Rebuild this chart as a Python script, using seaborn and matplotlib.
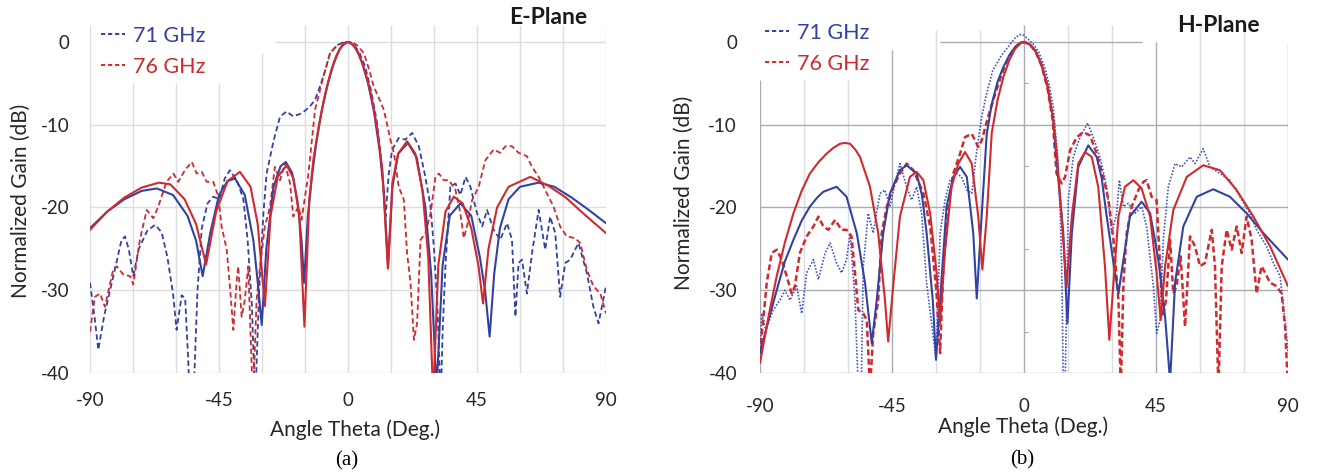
import matplotlib
matplotlib.use("Agg")
import matplotlib.pyplot as plt
from matplotlib.lines import Line2D
import pandas as pd
import seaborn as sns

# E-plane (a): (angle deg, normalized gain dB)
E_71_SIM = [(-90, -22.5), (-84, -20.5), (-78, -19.0), (-72, -18.0), (-66.7, -17.7), (-61, -18.5),
            (-56, -21.0), (-53, -24.0), (-50.7, -28.3), (-48, -23.0), (-45, -18.5), (-42, -16.8),
            (-39.4, -16.5), (-36, -18.5), (-33, -24.0), (-31.5, -29.0), (-30.1, -34.2), (-28.5, -25.0),
            (-26, -17.5), (-23.5, -15.0), (-21.7, -14.5), (-19.5, -15.8), (-17.5, -19.5), (-16.2, -24.0),
            (-15.3, -29.1), (-14, -21.0), (-12.5, -16.0), (-11, -12.0), (-9, -8.0), (-7, -5.0),
            (-5, -2.6), (-3, -0.9), (-1, -0.1), (0, 0.0), (1, -0.1), (3, -0.9), (5, -2.6), (7, -5.0),
            (9, -8.3), (11, -13.0), (12.5, -18.0), (14, -27.2), (15.5, -17.5), (17.5, -13.5),
            (20.9, -12.2), (24, -14.0), (27, -20.0), (29, -28.0), (30.9, -42.0), (33, -27.0),
            (35.5, -21.0), (39.2, -19.5), (43, -21.0), (46, -26.0), (47.8, -30.0), (49.4, -35.6),
            (51, -28.0), (53, -22.5), (56, -19.0), (60, -17.5), (66.5, -17.0), (72, -17.5),
            (78, -18.8), (84, -20.3), (90, -21.9)]

E_76_SIM = [(-90, -22.7), (-84, -20.5), (-78, -18.8), (-72, -17.6), (-66, -17.0), (-62, -17.2),
            (-57, -19.0), (-53, -22.0), (-49.5, -26.9), (-46, -20.5), (-42, -16.8), (-37.7, -15.7),
            (-34, -17.5), (-31.5, -22.0), (-29, -31.9), (-27, -21.0), (-24.5, -16.3), (-21.4, -14.9),
            (-19, -16.5), (-17, -21.0), (-15.2, -34.4), (-13.5, -19.0), (-12, -14.0), (-10, -9.8),
            (-8, -6.3), (-6, -3.6), (-4, -1.6), (-2, -0.4), (0, 0.0), (2, -0.4), (4, -1.6), (6, -3.6),
            (8, -6.3), (10, -10.0), (12, -15.5), (13.9, -27.4), (15.5, -17.0), (17.5, -13.5),
            (20.6, -12.0), (23.5, -13.5), (26, -18.0), (28, -26.0), (29.7, -43.0), (31.5, -27.0),
            (34, -20.5), (36.9, -18.7), (40, -19.5), (43, -22.5), (45.5, -27.0), (47.1, -31.6),
            (49, -25.0), (52, -20.0), (56, -17.5), (63.6, -16.3), (70, -17.4), (76, -18.8),
            (82, -20.7), (90, -23.1)]

E_71_MEAS = [(-90, -29.1), (-88.5, -33.0), (-87.1, -37.2), (-85, -33.0), (-83, -30.0), (-81, -27.0),
             (-79, -23.9), (-77.8, -23.5), (-76.5, -25.0), (-74.9, -28.3), (-73, -25.0), (-70, -22.8),
             (-67.3, -22.1), (-65, -23.0), (-63, -26.0), (-61, -30.5), (-59.8, -34.8), (-58, -30.6),
             (-56.8, -31.0), (-55.8, -38.0), (-55.1, -44.0), (-54, -44.0), (-52.5, -30.0), (-51, -22.5),
             (-49, -19.5), (-47, -18.7), (-44.9, -19.0), (-43, -16.5), (-41.2, -15.5), (-38.8, -16.7),
             (-36.5, -19.0), (-35, -24.0), (-33.5, -32.0), (-32.4, -44.0), (-31, -30.0), (-29.5, -20.7),
             (-28.4, -15.9), (-26, -12.0), (-23.7, -9.0), (-21.4, -8.4), (-19.1, -9.0), (-16, -8.6),
             (-13.3, -7.8), (-11.5, -7.0), (-9.8, -5.4), (-8, -3.5), (-6.3, -1.4), (-4, -0.5),
             (-2, -0.1), (0, 0.0), (2, -0.3), (4, -1.3), (6, -3.0), (8, -5.8), (10, -9.5), (11.5, -14.0),
             (13.1, -21.1), (14.2, -16.0), (15.4, -13.0), (17.7, -11.6), (20, -11.8), (22.4, -11.0),
             (24.7, -12.6), (26.8, -16.0), (28.8, -19.9), (30, -25.0), (31.1, -31.2), (31.8, -38.0),
             (32.3, -44.0), (33, -35.0), (34, -27.1), (35.7, -17.5), (37.5, -17.1), (39.2, -18.5),
             (41, -16.3), (42.7, -17.5), (45, -20.7), (46.8, -22.3), (48.5, -20.3), (50.8, -22.7),
             (53.1, -23.9), (55.5, -21.9), (57.2, -23.9), (58.4, -33.2), (59.5, -26.7), (60.7, -26.3),
             (62.4, -30.4), (64.2, -25.5), (66.5, -20.3), (68.8, -25.1), (70.5, -21.1), (72.3, -23.1),
             (74, -30.8), (75.8, -26.7), (77.5, -26.3), (80.4, -24.3), (83.3, -27.9), (85.6, -32.0),
             (87.4, -34.0), (90, -29.5)]

E_76_MEAS = [(-90, -35.0), (-88.3, -30.8), (-86.5, -30.4), (-84.8, -32.0), (-81.9, -27.5), (-80.7, -27.1),
             (-78.4, -28.1), (-76, -28.3), (-74.9, -29.3), (-72.6, -23.9), (-70.2, -20.3), (-67.9, -21.3),
             (-66.2, -19.9), (-63.3, -16.9), (-60.9, -15.9), (-59.2, -16.9), (-56.9, -15.5), (-54.5, -14.5),
             (-52.8, -15.9), (-51, -15.7), (-49.3, -16.9), (-47, -16.9), (-45.2, -18.7), (-44.1, -22.3),
             (-42.3, -25.1), (-41.2, -29.5), (-40, -34.8), (-38.8, -28.7), (-38.3, -27.1), (-37.1, -33.2),
             (-36, -31.2), (-34.8, -27.1), (-33.6, -39.2), (-33.1, -43.0), (-31.9, -31.2), (-30.7, -27.1),
             (-29, -22.3), (-27.2, -19.9), (-25.5, -15.1), (-23.7, -16.7), (-22, -14.7), (-20.2, -17.1),
             (-19.1, -21.1), (-17.3, -19.9), (-16.2, -21.5), (-13.8, -15.9), (-11.5, -8.2), (-8.6, -4.2),
             (-6.3, -1.4), (-4, -0.4), (-1, 0.0), (1.5, 0.0), (3.5, -0.5), (5.6, -1.4), (7.5, -3.5),
             (9, -5.4), (10.8, -6.8), (12.5, -8.2), (14.8, -11.8), (16, -13.4), (17.7, -17.5),
             (19.5, -19.1), (20.6, -25.5), (21.8, -29.1), (23, -36.0), (24.1, -34.0), (25.3, -23.9),
             (27, -23.1), (28.8, -20.7), (30.5, -16.3), (31.7, -15.9), (33.4, -16.7), (35.2, -16.7),
             (37.5, -17.9), (39.2, -20.7), (40.4, -23.7), (41.5, -22.3), (43.3, -19.1), (45.6, -17.5),
             (47.9, -14.3), (50.8, -13.0), (53.1, -13.4), (54.9, -12.6), (57.2, -12.6), (59.5, -13.4),
             (62.4, -13.8), (64.2, -15.1), (66.5, -16.3), (69.4, -18.3), (71.7, -19.9), (74, -22.3),
             (76.3, -23.5), (79.2, -23.7), (81, -24.3), (83.3, -27.5), (85.6, -29.5), (88, -30.4),
             (90, -32.8)]

# H-plane (b)
H_71_SIM = [(-90, -37.6), (-87, -33.5), (-84.3, -30.0), (-81.5, -26.5), (-78.6, -23.9), (-75.8, -21.6),
            (-73, -19.9), (-70.5, -18.8), (-68.4, -18.1), (-63.9, -17.5), (-60.5, -18.7), (-57, -23.1),
            (-54.2, -29.1), (-51.9, -36.4), (-50.2, -31.2), (-48, -23.1), (-45.7, -18.3), (-42.3, -15.5),
            (-40, -14.9), (-36.6, -15.9), (-34.8, -18.5), (-33.2, -23.1), (-31.1, -31.2), (-30, -38.4),
            (-28.6, -31.2), (-26.4, -19.9), (-24.1, -16.3), (-21.8, -15.1), (-19.5, -16.3), (-17.3, -23.1),
            (-16.1, -31.0), (-14.8, -23.1), (-12.7, -11.1), (-11, -7.5), (-9, -4.8), (-7, -3.0), (-5, -1.6),
            (-3, -0.6), (-1, -0.05), (0, 0.0), (2, -0.3), (4, -1.1), (6, -2.7), (8, -5.2), (10, -9.5),
            (11.1, -14.3), (13.4, -23.1), (14.8, -34.0), (16.3, -23.1), (18.5, -15.1), (21.9, -12.5),
            (24.8, -13.9), (26.5, -16.5), (28.2, -21.1), (31, -27.9), (32.2, -30.4), (33.9, -26.3),
            (36.1, -21.1), (40.1, -19.3), (43, -20.7), (45.8, -26.3), (48.1, -33.2), (49.8, -41.0),
            (51.5, -29.1), (54.3, -22.3), (58.9, -18.7), (64.5, -17.8), (70.2, -18.7), (75.9, -20.7),
            (81.6, -23.1), (90, -26.3)]

H_76_SIM = [(-90, -38.8), (-87, -33.0), (-84.3, -28.3), (-81.5, -24.2), (-78.6, -20.7), (-75.8, -18.0),
            (-73, -15.9), (-70, -14.5), (-67.3, -13.5), (-65, -12.8), (-62.7, -12.3), (-61, -12.2),
            (-59.3, -12.3), (-57.5, -13.0), (-55.9, -13.9), (-52.5, -17.5), (-49.7, -23.1), (-47.4, -31.2),
            (-46.3, -36.2), (-44.5, -29.1), (-42.3, -21.1), (-38.9, -16.3), (-36.6, -15.7), (-34.3, -16.7),
            (-32, -20.7), (-29.8, -27.9), (-28.6, -34.0), (-26.9, -25.1), (-24.7, -17.5), (-22.4, -14.7),
            (-20.1, -13.3), (-17.8, -14.7), (-15.6, -21.1), (-14.2, -27.5), (-12.7, -21.1), (-11, -11.0),
            (-9, -7.0), (-7, -4.2), (-5, -2.2), (-3, -0.8), (-1, -0.1), (0, 0.0), (2, -0.3), (4, -1.2),
            (6, -2.8), (8, -5.3), (10, -9.5), (11.1, -13.1), (12.8, -21.1), (14.5, -29.5), (16.3, -21.1),
            (18.5, -14.7), (20.8, -13.3), (23.1, -13.9), (25.3, -17.5), (27.6, -27.1), (29.1, -36.0),
            (30.5, -29.1), (32.2, -21.1), (34.4, -17.5), (37.3, -16.7), (40.1, -17.7), (43, -21.1),
            (45.2, -27.9), (46.6, -33.6), (48.1, -27.1), (50.9, -20.3), (55.5, -16.3), (61.1, -14.9),
            (66.8, -15.5), (72.5, -17.9), (78.2, -21.1), (83.9, -24.7), (90, -29.5)]

H_71_MEAS = [(-90, -38.8), (-89.4, -32.8), (-88, -34.8), (-85.5, -32.4), (-83.2, -31.2), (-81.5, -30.0),
             (-79.8, -31.2), (-77.5, -29.5), (-75.8, -32.8), (-74.1, -27.9), (-71.8, -26.3), (-70.1, -28.7),
             (-67.8, -25.5), (-66.1, -24.3), (-63.9, -26.7), (-62.2, -27.9), (-60.5, -26.3), (-59.3, -23.1),
             (-57.6, -31.2), (-56.5, -42.0), (-55.5, -42.0), (-54.8, -27.1), (-53.1, -20.7), (-51.4, -23.1),
             (-49.1, -18.3), (-47.4, -17.9), (-45.7, -19.9), (-44, -17.1), (-42.3, -14.7), (-40, -17.5),
             (-38.3, -19.1), (-36.6, -17.5), (-34.9, -20.7), (-33.2, -29.1), (-31.5, -34.0), (-30, -38.4),
             (-28.6, -23.1), (-26.9, -19.1), (-25.2, -16.7), (-22.9, -15.9), (-21.3, -16.3), (-19.5, -17.9),
             (-17.8, -18.3), (-16.1, -13.1), (-14.4, -9.0), (-12.7, -6.2), (-10.6, -3.4), (-8, -1.8),
             (-5, -0.4), (-3, 0.5), (-1.4, 0.9), (0, 0.8), (1.5, 0.3), (3, -0.2), (5, -1.2), (7, -3.0),
             (8.5, -5.0), (10, -8.0), (11.5, -14.0), (12.5, -22.0), (13, -30.0), (13.4, -42.0), (14, -42.0),
             (15.1, -19.1), (16.8, -13.9), (19.1, -11.5), (21.7, -9.8), (23.6, -11.5), (25.9, -13.9),
             (28.2, -17.5), (29.9, -23.1), (31.6, -20.7), (32.5, -16.7), (33.9, -19.9), (35.6, -19.5),
             (37.8, -20.7), (40.1, -19.9), (41.8, -22.3), (44.1, -29.5), (45.2, -35.2), (46.4, -33.6),
             (47.5, -23.9), (49.2, -17.5), (51.5, -14.7), (53.8, -15.1), (56.6, -13.9), (58.3, -14.7),
             (61.1, -12.9), (63.4, -15.1), (66.8, -15.9), (70.2, -16.7), (73.6, -18.7), (77, -20.7),
             (79.3, -22.7), (82.7, -24.7), (85, -26.7), (87.3, -28.3), (89, -33.6), (90, -37.6)]

H_76_MEAS = [(-90, -37.6), (-88.9, -33.6), (-87.7, -29.1), (-86, -25.5), (-84.3, -25.1), (-82.6, -26.3),
             (-80.9, -28.3), (-79.2, -30.4), (-78.1, -29.5), (-76.4, -25.5), (-74.1, -23.5), (-71.8, -22.3),
             (-70.1, -21.1), (-68.4, -22.3), (-66.7, -22.7), (-64.4, -21.5), (-62.2, -22.7), (-60.5, -22.7),
             (-58.8, -23.5), (-57.6, -27.9), (-56.5, -32.4), (-54.8, -32.8), (-53.6, -33.6), (-52.5, -42.0),
             (-51.4, -35.2), (-49.7, -31.2), (-48.5, -23.1), (-46.8, -19.9), (-44.5, -17.5), (-42.3, -15.9),
             (-40, -14.7), (-37.7, -15.5), (-34.3, -18.3), (-32, -22.3), (-29.8, -30.4), (-28.6, -37.6),
             (-27.5, -27.1), (-25.8, -19.9), (-24.1, -15.9), (-21.8, -13.5), (-20.1, -11.5), (-17.8, -11.1),
             (-15.6, -12.7), (-14.4, -11.9), (-12.2, -9.0), (-10, -6.5), (-8, -4.3), (-6, -2.5), (-4, -1.1),
             (-2, -0.3), (0, 0.0), (2, -0.3), (4, -1.2), (6, -2.9), (8, -5.6), (9.8, -9.5), (11.1, -15.9),
             (12.8, -17.1), (14, -16.3), (15.7, -13.1), (18, -11.5), (20.2, -10.9), (22.5, -11.3),
             (24.8, -13.5), (27, -16.3), (28.8, -19.1), (30.5, -23.9), (32.2, -31.2), (33, -42.0),
             (33.9, -29.1), (35, -23.1), (36.7, -19.9), (39, -17.9), (40.7, -16.9), (41.8, -16.7),
             (43.5, -18.7), (45.2, -19.1), (46.4, -27.1), (47.3, -33.2), (48.4, -31.2), (49.8, -23.9),
             (50.9, -30.4), (52, -29.5), (53.4, -25.9), (54.9, -34.4), (56.6, -23.5), (58.3, -24.7),
             (60, -27.1), (61.7, -26.7), (64, -22.7), (65.1, -27.1), (66.3, -42.0), (67.4, -27.1),
             (69.1, -22.7), (70.8, -25.1), (72.5, -22.3), (74.2, -25.5), (75.9, -21.1), (77.6, -23.9),
             (79.3, -30.4), (81, -27.1), (82.2, -27.9), (83.9, -29.1), (86.1, -29.5), (87.8, -30.4),
             (89, -34.4), (90, -42.0)]

X_TICKS = [-90, -45, 0, 45, 90]
Y_TICKS = [0, -10, -20, -30, -40]
LEGEND_LABELS = ["71 GHz", "76 GHz"]

BLUE = "#3342a2"
RED = "#d02a2e"
GRID_LIGHT = "#dcdde3"
GRID_DARK = "#a9acb0"
TXT = "#262626"

W, H = 1319, 476
sns.set_theme(style="white")
plt.rcParams["font.family"] = ["Lato", "DejaVu Sans"]
plt.rcParams["axes.unicode_minus"] = False

fig = plt.figure(figsize=(W / 100, H / 100), dpi=100)


def px(x, y):
    return x / W, 1 - y / H


def to_df(pts):
    return pd.DataFrame(pts, columns=["angle", "gain"])


def draw(ax, pts, color, lw, ls, z):
    sns.lineplot(data=to_df(pts), x="angle", y="gain", ax=ax, color=color,
                 linewidth=lw, linestyle=ls, estimator=None, sort=False, zorder=z)


bottom, top = 1 - 373 / H, 1 - 25.4 / H
ax_a = fig.add_axes([90 / W, bottom, (606 - 90) / W, top - bottom])
ax_b = fig.add_axes([760 / W, bottom, (1288 - 760) / W, top - bottom])

dash = (0, (3, 1.8))

# ---- panel (a): light Excel-like grid
for xv in [-90, -15, 0, 15, 30, 45, 60, 75, 90]:
    ax_a.vlines(xv, -40, 2, color=GRID_LIGHT, lw=1, zorder=0)
for xv in [-75, -60, -45]:
    ax_a.vlines(xv, -40, -5, color=GRID_LIGHT, lw=1, zorder=0)
ax_a.vlines(-30, -40, -1.3, color=GRID_LIGHT, lw=1, zorder=0)
for yv in [-10, -20, -30, -40]:
    ax_a.hlines(yv, -90, 90, color=GRID_LIGHT, lw=1, zorder=0)
ax_a.hlines(0, -25.5, 90, color=GRID_LIGHT, lw=1, zorder=0)

draw(ax_a, E_71_MEAS, BLUE, 1.3, dash, 2)
draw(ax_a, E_76_MEAS, RED, 1.3, dash, 2)
draw(ax_a, E_71_SIM, BLUE, 1.5, "-", 3)
draw(ax_a, E_76_SIM, RED, 1.5, "-", 3)

# ---- panel (b): darker major grid, light minor grid
for xv in [15, 30, 60, 75]:
    ax_b.vlines(xv, -40, 2, color=GRID_LIGHT, lw=1, zorder=0)
for xv in [-75, -60]:
    ax_b.vlines(xv, -40, -4.6, color=GRID_LIGHT, lw=1, zorder=0)
for xv in [-30, -15]:
    ax_b.vlines(xv, -40, 1.5, color=GRID_LIGHT, lw=1, zorder=0)
ax_b.vlines(-90, -40, -4.6, color=GRID_DARK, lw=1, zorder=0)
ax_b.vlines(-45, -40, -1.0, color=GRID_DARK, lw=1, zorder=0)
ax_b.vlines(0, -40, 2, color=GRID_DARK, lw=1, zorder=0)
for xv in [45, 90]:
    ax_b.vlines(xv, -40, 0, color=GRID_DARK, lw=1, zorder=0)
for yv in [-10, -20, -30, -40]:
    ax_b.hlines(yv, -90, 90, color=GRID_DARK, lw=1, zorder=0)
ax_b.hlines(0, -28.6, 40.2, color=GRID_DARK, lw=1, zorder=0)
for yv in [-5, -15, -25, -35]:
    ax_b.hlines(yv, 0, 1.4, color=GRID_DARK, lw=0.8, zorder=0)

draw(ax_b, H_71_MEAS, "#4455bb", 1.2, (0, (1, 1)), 2)
draw(ax_b, H_76_MEAS, RED, 1.8, (0, (2.4, 1.3)), 2)
draw(ax_b, H_71_SIM, BLUE, 1.5, "-", 3)
draw(ax_b, H_76_SIM, RED, 1.5, "-", 3)

for ax, ypad, xpad in [(ax_a, 14.5, 13.5), (ax_b, 16.5, 18)]:
    ax.set_xlim(-90, 90)
    ax.set_ylim(-40, 2)
    ax.set_xticks(X_TICKS)
    ax.set_yticks(Y_TICKS)
    ax.tick_params(axis="y", length=0, pad=ypad, labelsize=13.5, labelcolor=TXT)
    ax.tick_params(axis="x", length=0, pad=xpad, labelsize=13.5, labelcolor=TXT)
    ax.set_xlabel("")
    ax.set_ylabel("")
    sns.despine(ax=ax, left=True, bottom=True)

# legends (dashed handles, colored text)
handles = [Line2D([], [], color=BLUE, lw=1.4, linestyle=(0, (2.2, 1.4))),
           Line2D([], [], color=RED, lw=1.4, linestyle=(0, (2.2, 1.4)))]
for ax, (lx, ly) in [(ax_a, (101, 26)), (ax_b, (765, 23))]:
    ax.legend(handles, LEGEND_LABELS, loc="upper left", bbox_to_anchor=px(lx, ly),
              bbox_transform=fig.transFigure, frameon=False, fontsize=15.5,
              labelcolor=[BLUE, RED], handlelength=1.1, handletextpad=0.4,
              labelspacing=0.5, borderpad=0, borderaxespad=0)

# texts
lbl = dict(fontsize=15, color=TXT)
fig.text(*px(21, 201), "Normalized Gain (dB)", rotation=90, ha="center", va="center", **lbl)
fig.text(*px(684, 193), "Normalized Gain (dB)", rotation=90, ha="center", va="center", **lbl)
fig.text(*px(355, 430), "Angle Theta (Deg.)", ha="center", va="center", **lbl)
fig.text(*px(1023, 427), "Angle Theta (Deg.)", ha="center", va="center", **lbl)
fig.text(*px(548, 18), "E-Plane", ha="center", va="center", fontsize=16.5,
         fontweight="bold", color="#1a1a1a")
fig.text(*px(1218, 25), "H-Plane", ha="center", va="center", fontsize=16.5,
         fontweight="bold", color="#1a1a1a")
fig.text(*px(347, 461), "(a)", ha="center", va="center", fontsize=15,
         family="Liberation Serif", color="black")
fig.text(*px(1022, 460), "(b)", ha="center", va="center", fontsize=15,
         family="Liberation Serif", color="black")

fig.savefig("out.png", dpi=100, facecolor="white")
